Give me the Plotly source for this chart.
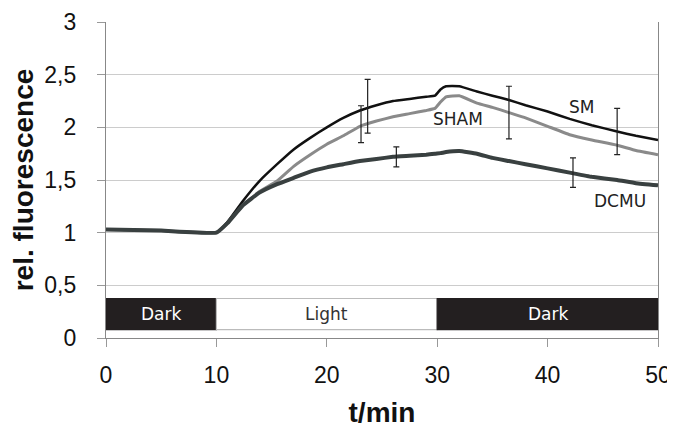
import plotly.graph_objects as go

# time points (min)
t = [0, 5, 10, 11, 12.4, 13.9, 15.5, 17, 18.5, 20, 21.5, 23, 24.5, 26, 27.5, 29, 29.8, 30.3, 30.8, 32, 33.6, 35, 36.5, 38, 40, 42, 44, 46.3, 48, 50]

sm = [1.03, 1.02, 1.00, 1.10, 1.30, 1.49, 1.65, 1.79, 1.90, 2.00, 2.09, 2.16, 2.21, 2.25, 2.27, 2.29, 2.30, 2.36, 2.39, 2.39, 2.34, 2.30, 2.26, 2.21, 2.15, 2.08, 2.02, 1.96, 1.92, 1.88]
sham = [1.03, 1.02, 1.00, 1.09, 1.26, 1.39, 1.49, 1.63, 1.74, 1.84, 1.92, 2.01, 2.06, 2.10, 2.13, 2.16, 2.18, 2.24, 2.29, 2.30, 2.23, 2.19, 2.14, 2.09, 2.01, 1.93, 1.88, 1.83, 1.78, 1.74]
dcmu = [1.03, 1.02, 1.00, 1.09, 1.26, 1.38, 1.46, 1.52, 1.58, 1.62, 1.65, 1.68, 1.70, 1.72, 1.73, 1.74, 1.75, 1.755, 1.765, 1.775, 1.75, 1.71, 1.68, 1.65, 1.61, 1.57, 1.53, 1.50, 1.47, 1.45]

# error bars: (time, centre, half-range)
err_sm = {"t": [23.7, 46.3], "y": [2.20, 1.96], "e": [0.255, 0.22]}
err_sham = {"t": [23.1, 36.5], "y": [2.03, 2.14], "e": [0.175, 0.25]}
err_dcmu = {"t": [26.3, 42.3], "y": [1.72, 1.57], "e": [0.095, 0.14]}

series_labels = ["SM", "SHAM", "DCMU"]
label_pos = {"SM": (43.1, 2.19), "SHAM": (31.9, 2.08), "DCMU": (46.6, 1.30)}

phases = [("Dark", 0, 10), ("Light", 10, 30), ("Dark", 30, 50)]
phase_y = (0.08, 0.375)

x_ticks = [0, 10, 20, 30, 40, 50]
y_ticks = [0, 0.5, 1, 1.5, 2, 2.5, 3]
y_tick_text = ["0", "0,5", "1", "1,5", "2", "2,5", "3"]

colors = {"SM": "#111111", "SHAM": "#8a8a8a", "DCMU": "#394040"}
widths = {"SM": 2.5, "SHAM": 3, "DCMU": 4}

fig = go.Figure()
for name, ys in zip(series_labels, [sm, sham, dcmu]):
    fig.add_trace(go.Scatter(x=t, y=ys, mode="lines", name=name,
                             line=dict(color=colors[name], width=widths[name], shape="spline", smoothing=0.3),
                             showlegend=False, hoverinfo="skip"))

for eb in [err_sm, err_sham, err_dcmu]:
    fig.add_trace(go.Scatter(x=eb["t"], y=eb["y"], mode="markers",
                             marker=dict(size=1, color="rgba(0,0,0,0)"),
                             error_y=dict(type="data", array=eb["e"], color="#222222", thickness=1.2, width=3),
                             showlegend=False, hoverinfo="skip"))

lab_font = dict(family="DejaVu Sans", size=17)
for name in series_labels:
    x0, y0 = label_pos[name]
    fig.add_annotation(x=x0, y=y0, text=name, showarrow=False,
                       font=dict(color="#222222", **lab_font))

for name, a, b in phases:
    dark = name == "Dark"
    fig.add_shape(type="rect", x0=a, x1=b, y0=phase_y[0], y1=phase_y[1],
                  xref="x", yref="y",
                  fillcolor="#231f20" if dark else "#ffffff",
                  line=dict(color="#231f20" if dark else "#bbbbbb", width=1.2),
                  layer="above")
    fig.add_annotation(x=(a + b) / 2, y=sum(phase_y) / 2, text=name, showarrow=False,
                       font=dict(color="#ffffff" if dark else "#333333", **lab_font))

# the page body adds an 8px offset, so the figure is sized to fill the rest of the window
fig.update_layout(
    width=667, height=421,
    margin=dict(l=98, r=17, t=14, b=91),
    paper_bgcolor="white", plot_bgcolor="white",
    font=dict(family="Liberation Sans, Arial, sans-serif", color="#111111"),
)
fig.update_xaxes(range=[0, 50], tickvals=x_ticks, ticks="outside", ticklen=8, tickcolor="#999999",
                 showline=True, linecolor="#888888", linewidth=1.3, showgrid=False, zeroline=False,
                 tickfont=dict(size=23), ticklabelstandoff=8, automargin=False,
                 title=dict(text="<b>t/min</b>", font=dict(size=28), standoff=15))
fig.update_yaxes(range=[0, 3], tickvals=y_ticks, ticktext=y_tick_text, ticks="outside", ticklen=8,
                 tickcolor="#999999", showline=True, linecolor="#888888", linewidth=1.3, mirror=True,
                 showgrid=True, gridcolor="#cccccc", gridwidth=1.2, zeroline=False,
                 tickfont=dict(size=23), ticklabelstandoff=16, automargin=False,
                 title=dict(text="<b>rel. fluorescence</b>", font=dict(size=28), standoff=4))

fig.write_html("out.html")
